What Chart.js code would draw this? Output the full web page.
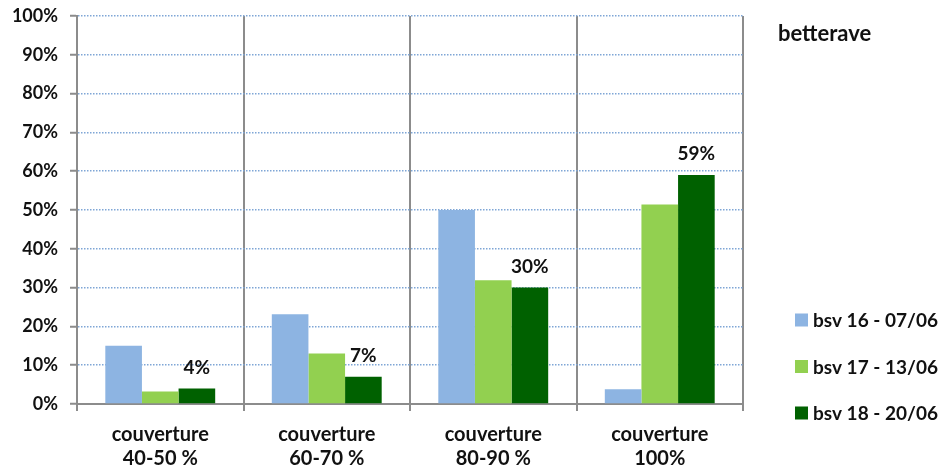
<!DOCTYPE html>
<html>
<head>
<meta charset="utf-8">
<script src="https://cdn.jsdelivr.net/npm/chart.js@4"></script>
<style>
  html, body { margin: 0; padding: 0; background: #fff; }
  #wrap { width: 942px; height: 471px; position: relative; }
</style>
</head>
<body>
<div id="wrap"><canvas id="chart"></canvas></div>
<script>
const categories = [
    ['couverture', '40-50 %'],
    ['couverture', '60-70 %'],
    ['couverture', '80-90 %'],
    ['couverture', '100%']
];
const seriesNames = ['bsv 16 - 07/06', 'bsv 17 - 13/06', 'bsv 18 - 20/06'];
const bsv16 = [15, 23.1, 50, 3.8];
const bsv17 = [3.2, 13, 31.9, 51.4];
const bsv18 = [4, 7, 30, 59];
const colors = ['#8db4e2', '#92d050', '#006100'];
const titleText = 'betterave';

const FONT = 'Lato, "Open Sans", sans-serif';

// value labels above the last series, plus title and legend on the right
const extras = {
    id: 'extras',
    afterDatasetsDraw(chart) {
        const ctx = chart.ctx;
        ctx.save();
        ctx.fillStyle = '#111';
        ctx.font = 'bold 19px ' + FONT;
        ctx.textAlign = 'center';
        ctx.textBaseline = 'middle';
        const meta = chart.getDatasetMeta(2);
        meta.data.forEach((bar, i) => {
            ctx.fillText(bsv18[i] + '%', bar.x, bar.y - 21);
        });

        ctx.textAlign = 'left';
        ctx.font = 'bold 22px ' + FONT;
        ctx.fillText(titleText, 778, 34);

        ctx.font = 'bold 19px ' + FONT;
        seriesNames.forEach((name, i) => {
            const y = 320 + i * 46.5;
            ctx.fillStyle = colors[i];
            ctx.fillRect(795, y - 6.5, 13, 13);
            ctx.fillStyle = '#111';
            ctx.fillText(name, 813, y + 1);
        });
        ctx.restore();
    }
};

new Chart(document.getElementById('chart'), {
    type: 'bar',
    data: {
        labels: categories,
        datasets: [
            { label: seriesNames[0], data: bsv16, backgroundColor: colors[0] },
            { label: seriesNames[1], data: bsv17, backgroundColor: colors[1] },
            { label: seriesNames[2], data: bsv18, backgroundColor: colors[2] }
        ]
    },
    options: {
        responsive: true,
        maintainAspectRatio: false,
        animation: false,
        layout: { padding: { top: 16, right: 199, left: 0, bottom: 0 } },
        datasets: {
            bar: { categoryPercentage: 0.66, barPercentage: 1.0 }
        },
        plugins: {
            legend: { display: false },
            tooltip: { enabled: false }
        },
        scales: {
            x: {
                grid: {
                    offset: true,
                    color: '#8c8c8c',
                    lineWidth: 2,
                    tickLength: 7,
                    tickColor: '#8c8c8c',
                    tickWidth: 2
                },
                border: { display: true, color: '#8c8c8c', width: 2 },
                ticks: {
                    color: '#111',
                    padding: 12,
                    maxRotation: 0,
                    font: { family: FONT, size: 20, weight: 'bold', lineHeight: 1.18 }
                },
                afterFit(scale) {
                    scale.height = 67;
                    scale.paddingLeft = 0;
                    scale.paddingRight = 0;
                }
            },
            y: {
                min: 0,
                max: 100,
                ticks: {
                    stepSize: 10,
                    color: '#111',
                    padding: 12,
                    font: { family: FONT, size: 18, weight: 'bold' },
                    callback: v => v + '%'
                },
                grid: {
                    color: ctx => ctx.tick && ctx.tick.value === 0 ? 'rgba(0,0,0,0)' : '#7fa6d6',
                    lineWidth: 1.5,
                    tickLength: 7,
                    tickColor: '#8c8c8c',
                    tickWidth: 2,
                    tickBorderDash: [1, 0]
                },
                border: { display: true, color: '#8c8c8c', width: 2, dash: [1.5, 1.5] },
                afterFit(scale) {
                    scale.width = 77;
                    scale.paddingTop = 0;
                    scale.paddingBottom = 0;
                }
            }
        }
    },
    plugins: [extras]
});
</script>
</body>
</html>
